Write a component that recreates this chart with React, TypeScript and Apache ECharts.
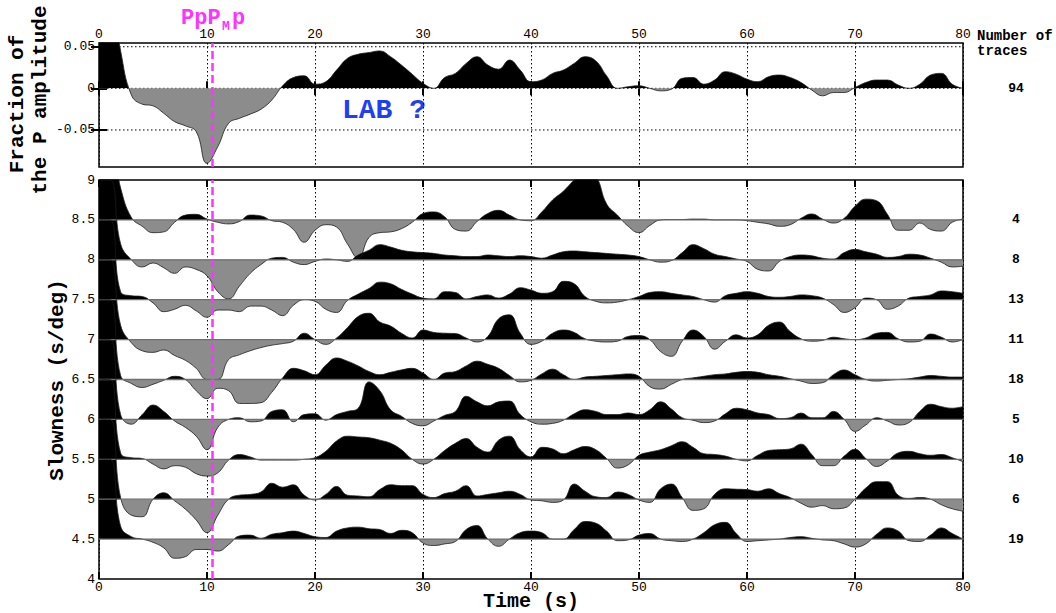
import React, { useEffect, useRef } from 'react';
import * as echarts from 'echarts';

// ---- time sampling (s) ----
const TIME_S: number[] = Array.from({ length: 81 }, (_, i) => i);
const X_MIN = 0;
const X_MAX = 80;
const X_STEP = 10;

// ---- top panel: stacked trace (fraction of the P amplitude) ----
const STACK_AMPLITUDE = [
  0.12, 0.12, 0.045, -0.008, -0.019, -0.021, -0.03, -0.04, -0.045, -0.052,
  -0.09, -0.07, -0.042, -0.036, -0.031, -0.025, -0.014, 0.003, 0.013, 0.015,
  0.005, 0.008, 0.022, 0.036, 0.041, 0.043, 0.045, 0.038, 0.028, 0.017,
  0.006, 0.0, 0.013, 0.018, 0.03, 0.038, 0.028, 0.023, 0.034, 0.022,
  0.008, 0.01, 0.018, 0.022, 0.03, 0.038, 0.033, 0.015, 0.0, 0.002,
  0.003, 0.0, -0.003, -0.001, 0.012, 0.013, 0.005, 0.01, 0.02, 0.017,
  0.011, 0.008, 0.014, 0.016, 0.013, 0.007, -0.002, -0.009, -0.005, -0.005,
  0.001, 0.007, 0.01, 0.01, 0.004, 0.0, 0.005, 0.016, 0.018, 0.005, 0.0,
];
const STACK_TRACE_COUNT = 94;
const STACK_Y_TICKS = [-0.05, 0, 0.05];
const STACK_Y_MIN = -0.0945;
const STACK_Y_MAX = 0.0545;

// ---- bottom panel: slowness bins (offsets in s/deg units from each baseline) ----
const TRACE_S85 = [
  1.0, 1.0, 0.4, 0.03, -0.08, -0.16, -0.15, -0.03, 0.06, 0.07,
  0.01, -0.03, -0.05, -0.02, 0.06, 0.05, -0.01, -0.03, -0.12, -0.28,
  -0.13, -0.06, -0.09, -0.3, -0.48, -0.22, -0.16, -0.15, -0.11, -0.03,
  0.08, 0.1, 0.04, -0.12, -0.14, -0.02, 0.08, 0.12, 0.06, 0.0,
  -0.01, 0.1, 0.25, 0.36, 0.5, 0.62, 0.55, 0.2, 0.06, -0.08,
  -0.16, -0.07, 0.0, 0.005, 0.005, 0.01, 0.01, 0.0, 0.0, 0.0,
  -0.01, -0.03, -0.05, -0.08, -0.06, 0.02, 0.075, 0.01, -0.04, 0.02,
  0.17, 0.26, 0.24, 0.07, -0.13, -0.13, -0.04, -0.12, -0.14, -0.03, 0.01,
];
const TRACE_S80 = [
  1.0, 1.0, 0.2, 0.0, -0.09, -0.04, -0.1, -0.17, -0.09, -0.12,
  -0.2, -0.4, -0.49, -0.33, -0.17, -0.06, 0.02, 0.03, -0.03, -0.06,
  -0.02, 0.01, 0.0, -0.02, 0.06, 0.12, 0.19, 0.16, 0.12, 0.1,
  0.09, 0.08, 0.06, 0.05, 0.04, 0.04, 0.06, 0.05, 0.04, 0.05,
  0.04, 0.02, 0.06, 0.1, 0.11, 0.1, 0.09, 0.08, 0.07, 0.06,
  0.04, 0.0, -0.03, -0.01, 0.09, 0.19, 0.14, 0.07, 0.04, 0.01,
  -0.02, -0.12, -0.14, -0.02, 0.04, 0.06, 0.05, 0.02, 0.01, 0.09,
  0.13, 0.1, 0.07, 0.03, 0.04, 0.07, 0.06, 0.02, -0.03, -0.09, -0.08,
];
const TRACE_S75 = [
  1.0, 1.0, 0.1, 0.05, 0.04, -0.04, -0.15, -0.12, -0.07, -0.14,
  -0.22, -0.13, -0.13, -0.15, -0.08, -0.08, -0.13, -0.2, -0.07, 0.0,
  -0.02, -0.12, -0.16, -0.01, 0.07, 0.14, 0.22, 0.2, 0.13, 0.07,
  0.02, 0.01, 0.1, 0.09, 0.01, 0.04, 0.06, 0.02, 0.07, 0.15,
  0.12, 0.08, 0.1, 0.23, 0.2, 0.04, -0.02, -0.04, -0.03, 0.0,
  0.04, 0.09, 0.1, 0.08, 0.06, 0.04, 0.0, -0.03, 0.05, 0.08,
  0.1, 0.08, 0.04, 0.03, 0.04, 0.06, 0.05, 0.02, -0.06, -0.16,
  -0.1, 0.02, 0.0, -0.12, -0.08, 0.02, 0.04, 0.06, 0.11, 0.1, 0.08,
];
const TRACE_S70 = [
  1.0, 1.0, 0.18, -0.04, -0.14, -0.16, -0.13, -0.2, -0.26, -0.36,
  -0.5, -0.5, -0.25, -0.19, -0.14, -0.1, -0.07, -0.05, -0.02, 0.08,
  0.0, -0.06, 0.02, 0.15, 0.29, 0.33, 0.22, 0.17, 0.08, 0.02,
  0.12, 0.09, 0.08, 0.075, 0.02, -0.03, 0.04, 0.26, 0.31, 0.08,
  -0.06, -0.02, 0.08, 0.12, 0.09, 0.01, -0.02, -0.03, -0.02, 0.04,
  0.05, 0.0, -0.15, -0.21, -0.02, 0.12, 0.04, -0.12, -0.02, 0.06,
  0.02, 0.06, 0.18, 0.22, 0.1, 0.01, -0.02, -0.01, 0.03, 0.01,
  0.0, 0.02, 0.08, 0.09, 0.01, -0.03, -0.02, 0.07, 0.03, -0.03, 0.0,
];
const TRACE_S65 = [
  1.0, 1.0, 0.05, -0.05, -0.1, -0.06, -0.01, 0.04, 0.0, -0.14,
  -0.24, -0.11, -0.14, -0.3, -0.3, -0.29, -0.16, 0.02, 0.14, 0.11,
  0.06, 0.18, 0.27, 0.23, 0.17, 0.1, 0.06, 0.09, 0.12, 0.14,
  0.08, 0.0, 0.08, 0.1, 0.17, 0.23, 0.19, 0.14, 0.05, -0.03,
  -0.01, 0.07, 0.13, 0.06, 0.0, 0.03, 0.04, 0.05, 0.06, 0.07,
  0.04, -0.09, -0.12, -0.06, 0.0, 0.02, 0.04, 0.06, 0.07, 0.09,
  0.1, 0.09, 0.06, 0.04, 0.01, -0.02, -0.05, -0.04, 0.06, 0.12,
  0.06, 0.0, -0.02, -0.01, 0.0, 0.01, 0.03, 0.05, 0.04, 0.03, 0.03,
];
const TRACE_S60 = [
  1.0, 1.0, 0.06, -0.06, 0.06, 0.18, 0.1, -0.02, -0.1, -0.21,
  -0.38, -0.1, 0.0, 0.02, -0.03, -0.02, 0.1, 0.12, -0.03, 0.06,
  0.07, -0.01, 0.06, 0.1, 0.14, 0.47, 0.36, 0.12, 0.04, -0.05,
  -0.08, -0.02, 0.05, 0.1, 0.29, 0.22, 0.17, 0.22, 0.23, 0.06,
  -0.03, -0.06, -0.05, -0.01, 0.07, 0.12, 0.1, 0.06, 0.06, 0.08,
  0.06, 0.12, 0.22, 0.13, 0.02, -0.01, -0.04, -0.02, 0.07, 0.14,
  0.12, 0.08, 0.06, 0.01, 0.02, 0.08, 0.02, 0.02, 0.1, 0.0,
  -0.15, -0.07, 0.02, -0.02, -0.07, -0.04, 0.1, 0.19, 0.16, 0.14, 0.16,
];
const TRACE_S55 = [
  1.0, 1.0, 0.08, 0.02, 0.01, -0.06, -0.12, -0.08, -0.1, -0.18,
  -0.21, -0.17, -0.01, 0.06, 0.03, -0.01, -0.01, -0.01, -0.01, 0.0,
  0.02, 0.1, 0.23, 0.29, 0.28, 0.27, 0.24, 0.2, 0.12, 0.0,
  -0.06, 0.0, 0.11, 0.2, 0.26, 0.15, 0.09, 0.24, 0.29, 0.12,
  0.03, 0.15, 0.13, 0.07, 0.12, 0.16, 0.12, 0.01, -0.11, -0.07,
  0.05, 0.09, 0.12, 0.17, 0.22, 0.15, 0.07, 0.06, 0.04, 0.0,
  -0.02, 0.05, 0.11, 0.12, 0.13, 0.19, 0.06, -0.08, -0.08, 0.04,
  0.125, 0.01, -0.09, -0.02, 0.08, 0.1, 0.07, 0.05, 0.06, 0.02, -0.03,
];
const TRACE_S50 = [
  1.0, 1.0, 0.02, -0.2, -0.22, 0.0, 0.08, -0.02, -0.125, -0.26,
  -0.42, -0.2, 0.0, 0.05, 0.06, 0.09, 0.2, 0.15, 0.18, 0.05,
  -0.01, 0.06, 0.16, 0.05, 0.04, 0.03, 0.12, 0.18, 0.17, 0.17,
  0.06, 0.02, 0.07, 0.1, 0.17, 0.04, 0.06, 0.08, 0.1, 0.06,
  -0.01, -0.02, -0.04, -0.01, 0.19, 0.1, 0.03, 0.02, 0.09, 0.06,
  -0.01, -0.04, 0.13, 0.19, 0.02, -0.14, -0.12, 0.06, 0.13, 0.125,
  0.12, 0.1, 0.13, 0.07, 0.02, -0.05, -0.1, -0.08, -0.12, -0.11,
  0.0, 0.14, 0.22, 0.22, 0.05, 0.01, 0.02, 0.0, -0.07, -0.12, -0.15,
];
const TRACE_S45 = [
  1.0, 1.0, 0.16, 0.03, 0.0, -0.04, -0.11, -0.24, -0.22, -0.13,
  -0.13, -0.15, -0.07, 0.04, 0.05, 0.01, 0.06, 0.08, 0.1, 0.07,
  0.03, 0.02, 0.1, 0.14, 0.15, 0.13, 0.12, 0.07, 0.11, 0.08,
  -0.05, -0.08, -0.06, -0.03, 0.12, 0.17, 0.0, -0.09, 0.0, 0.08,
  0.1, 0.08, 0.0, 0.0, 0.12, 0.22, 0.2, 0.1, -0.02, -0.01,
  0.05, 0.07, 0.0, -0.02, -0.03, 0.0, 0.08, 0.18, 0.21, 0.07,
  -0.03, -0.02, -0.01, 0.0, 0.02, 0.03, 0.01, -0.01, -0.02, -0.06,
  -0.1, -0.06, 0.06, 0.14, 0.1, -0.02, -0.03, 0.05, 0.14, 0.07, 0.0,
];

const SLOWNESS_BASELINES = [8.5, 8, 7.5, 7, 6.5, 6, 5.5, 5, 4.5];
const SLOWNESS_TRACE_COUNTS = [4, 8, 13, 11, 18, 5, 10, 6, 19];
const SLOWNESS_TRACES = [
  TRACE_S85, TRACE_S80, TRACE_S75, TRACE_S70, TRACE_S65,
  TRACE_S60, TRACE_S55, TRACE_S50, TRACE_S45,
];
const SLOWNESS_MIN = 4;
const SLOWNESS_MAX = 9;
const SLOWNESS_STEP = 0.5;

const PPMP_TIME = 10.45;

// ---- styling ----
const BLACK = '#000000';
const GRAY = '#8c8c8c';
const MAGENTA = '#ff33ff';
const BLUE = '#1f3ff2';
const MONO = '"Liberation Mono", "DejaVu Sans Mono", monospace';

export default function App() {
  const ref = useRef<HTMLDivElement>(null);

  useEffect(() => {
    const el = ref.current;
    if (!el) return;
    const chart = echarts.init(el, undefined, { renderer: 'svg' });

    const series: any[] = [];
    const visualMap: any[] = [];

    const ppmpMark = {
      silent: true,
      symbol: 'none',
      label: { show: false },
      lineStyle: { color: MAGENTA, width: 2.5, type: [8, 4] },
      data: [{ xAxis: PPMP_TIME }],
    };

    const splitPieces = (base: number) => [
      { min: -100, max: base, color: GRAY },
      { min: base, max: 100, color: BLACK },
    ];

    // dotted horizontal grid lines of the top panel (under the trace)
    STACK_Y_TICKS.forEach((v) => {
      series.push({
        type: 'line',
        xAxisIndex: 0,
        yAxisIndex: 0,
        data: [[X_MIN, v], [X_MAX, v]],
        symbol: 'none',
        silent: true,
        z: 1,
        lineStyle: { color: BLACK, width: 1, type: [1.5, 2.5] },
      });
    });

    // top stacked trace
    visualMap.push({
      type: 'piecewise',
      show: false,
      seriesIndex: series.length,
      dimension: 1,
      pieces: splitPieces(0),
    });
    series.push({
      type: 'line',
      xAxisIndex: 0,
      yAxisIndex: 0,
      data: TIME_S.map((t, i) => [t, STACK_AMPLITUDE[i]]),
      smooth: 0.45,
      symbol: 'none',
      showSymbol: false,
      silent: true,
      lineStyle: { color: '#1a1a1a', width: 0.8 },
      areaStyle: { origin: 0, opacity: 1 },
      markLine: ppmpMark,
    });

    // slowness traces
    SLOWNESS_TRACES.forEach((vals, k) => {
      const base = SLOWNESS_BASELINES[k];
      visualMap.push({
        type: 'piecewise',
        show: false,
        seriesIndex: series.length,
        dimension: 1,
        pieces: splitPieces(base),
      });
      series.push({
        type: 'line',
        xAxisIndex: 2,
        yAxisIndex: 2,
        data: TIME_S.map((t, i) => [t, base + vals[i]]),
        smooth: 0.45,
        symbol: 'none',
        showSymbol: false,
        silent: true,
        lineStyle: { color: '#1a1a1a', width: 0.8 },
        areaStyle: { origin: base, opacity: 1 },
      });
      series.push({
        type: 'line',
        xAxisIndex: 2,
        yAxisIndex: 2,
        data: [[X_MIN, base], [X_MAX, base]],
        symbol: 'none',
        silent: true,
        lineStyle: { color: '#6f6f6f', width: 1.3 },
        markLine: k === SLOWNESS_TRACES.length - 1 ? ppmpMark : undefined,
      });
    });

    const tickLabel = { color: BLACK, fontFamily: MONO, fontSize: 13 };
    const xAxisBase = (gridIndex: number, position: string, labels: boolean) => ({
      type: 'value',
      gridIndex,
      position,
      min: X_MIN,
      max: X_MAX,
      interval: X_STEP,
      axisLine: { show: false },
      axisTick: { show: true, inside: true, length: 7, lineStyle: { color: BLACK, width: 2 } },
      axisLabel: { show: labels, ...tickLabel, margin: 2 },
      splitLine: { show: labels, lineStyle: { color: BLACK, width: 1, type: [1.5, 2.5] } },
    });

    const titleStyle = (text: string, size: number, align: string) => ({
      text,
      fontFamily: MONO,
      fontSize: size,
      fontWeight: 'bold',
      fill: BLACK,
      align,
      verticalAlign: 'middle',
    });

    const option: any = {
      animation: false,
      backgroundColor: '#ffffff',
      grid: [
        { left: 99, top: 43, width: 864, height: 124, show: true, borderColor: BLACK, borderWidth: 1.5, backgroundColor: 'transparent' },
        { left: 99, top: 180, width: 864, height: 399, show: true, borderColor: BLACK, borderWidth: 1.5, backgroundColor: 'transparent' },
      ],
      xAxis: [
        xAxisBase(0, 'top', true),
        xAxisBase(0, 'bottom', false),
        xAxisBase(1, 'bottom', true),
        xAxisBase(1, 'top', false),
      ],
      yAxis: [
        {
          type: 'value',
          gridIndex: 0,
          position: 'left',
          min: STACK_Y_MIN,
          max: STACK_Y_MAX,
          axisLine: { show: false },
          axisTick: { show: true, inside: true, length: 8, lineStyle: { color: BLACK, width: 2 }, customValues: STACK_Y_TICKS },
          axisLabel: { ...tickLabel, margin: 4, customValues: STACK_Y_TICKS },
          splitLine: { show: false },
        },
        {
          type: 'value',
          gridIndex: 0,
          position: 'right',
          min: STACK_Y_MIN,
          max: STACK_Y_MAX,
          axisLine: { show: false },
          axisTick: { show: true, inside: true, length: 8, lineStyle: { color: BLACK, width: 2 }, customValues: STACK_Y_TICKS },
          axisLabel: {
            color: BLACK,
            fontFamily: MONO,
            fontSize: 13,
            fontWeight: 'bold',
            align: 'center',
            margin: 53,
            customValues: [0],
            formatter: () => String(STACK_TRACE_COUNT),
          },
          splitLine: { show: false },
        },
        {
          type: 'value',
          gridIndex: 1,
          position: 'left',
          min: SLOWNESS_MIN,
          max: SLOWNESS_MAX,
          interval: SLOWNESS_STEP,
          axisLine: { show: false },
          axisTick: { show: false },
          axisLabel: { ...tickLabel, margin: 4 },
          splitLine: { show: false },
        },
        {
          type: 'value',
          gridIndex: 1,
          position: 'right',
          min: SLOWNESS_MIN,
          max: SLOWNESS_MAX,
          axisLine: { show: false },
          axisTick: { show: false },
          axisLabel: {
            color: BLACK,
            fontFamily: MONO,
            fontSize: 13,
            fontWeight: 'bold',
            align: 'center',
            margin: 53,
            customValues: SLOWNESS_BASELINES,
            formatter: (v: number) => {
              const idx = SLOWNESS_BASELINES.findIndex((b) => Math.abs(b - v) < 1e-6);
              return idx >= 0 ? String(SLOWNESS_TRACE_COUNTS[idx]) : '';
            },
          },
          splitLine: { show: false },
        },
      ],
      visualMap,
      series,
      graphic: [
        { type: 'text', x: 181, y: 18, style: { text: 'PpP', fontFamily: MONO, fontSize: 22, fontWeight: 'bold', fill: MAGENTA, align: 'left', verticalAlign: 'middle' } },
        { type: 'text', x: 222, y: 26, style: { text: 'M', fontFamily: MONO, fontSize: 13, fontWeight: 'bold', fill: MAGENTA, align: 'left', verticalAlign: 'middle' } },
        { type: 'text', x: 232, y: 18, style: { text: 'p', fontFamily: MONO, fontSize: 22, fontWeight: 'bold', fill: MAGENTA, align: 'left', verticalAlign: 'middle' } },
        { type: 'text', x: 342, y: 110, style: { text: 'LAB ?', fontFamily: MONO, fontSize: 28, fontWeight: 'bold', fill: BLUE, align: 'left', verticalAlign: 'middle' } },
        { type: 'text', x: 17, y: 104, rotation: Math.PI / 2, style: titleStyle('Fraction of', 21, 'center') },
        { type: 'text', x: 40, y: 100, rotation: Math.PI / 2, style: titleStyle('the P amplitude', 21, 'center') },
        { type: 'text', x: 57, y: 380, rotation: Math.PI / 2, style: titleStyle('Slowness (s/deg)', 21, 'center') },
        { type: 'text', x: 531, y: 601, style: titleStyle('Time (s)', 20, 'center') },
        { type: 'text', x: 977, y: 36, style: titleStyle('Number of', 14, 'left') },
        { type: 'text', x: 977, y: 51, style: titleStyle('traces', 14, 'left') },
      ],
    };

    chart.setOption(option);
    return () => {
      chart.dispose();
    };
  }, []);

  return (
    <div
      ref={ref}
      style={{ position: 'fixed', left: 0, top: 0, width: 1056, height: 613, background: '#fff' }}
    />
  );
}
